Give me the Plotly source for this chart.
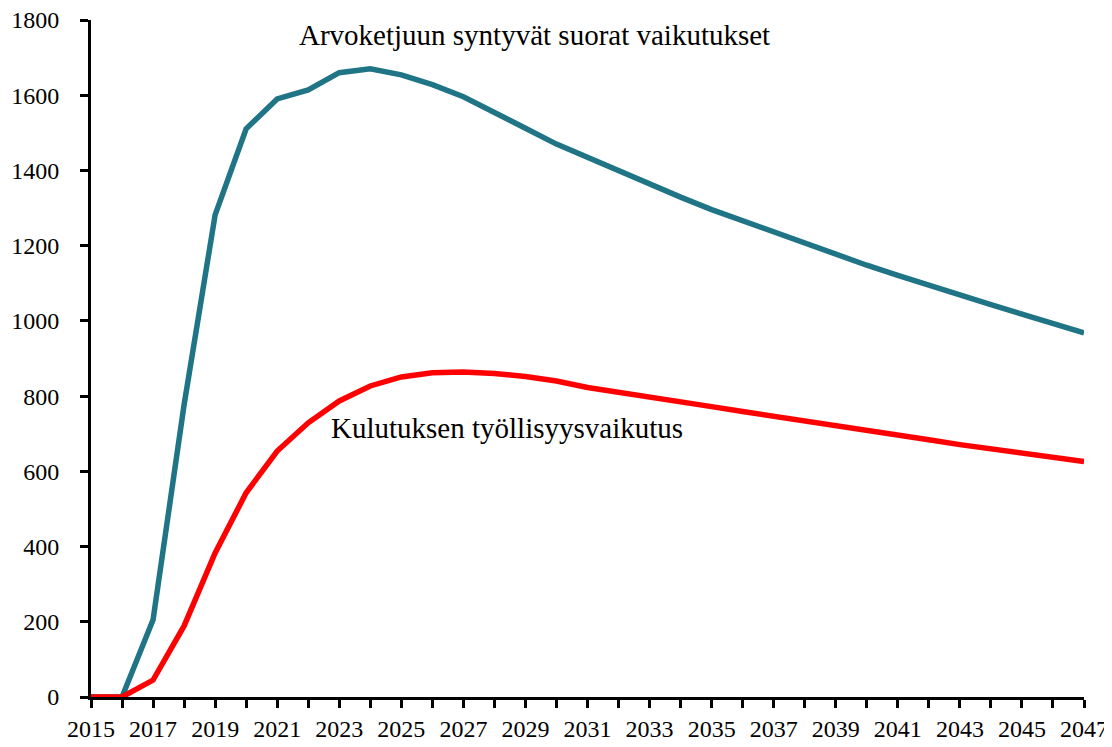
import plotly.graph_objects as go

years = list(range(2015, 2048))

arvoketju = [
    0, 0, 205, 777, 1282, 1511, 1590, 1614, 1660, 1670, 1654,
    1628, 1596, 1552, 1512, 1470, 1434, 1398, 1363, 1329, 1296,
    1266, 1236, 1205, 1176, 1148, 1121, 1094, 1068, 1043, 1018,
    993, 968,
]
kulutus = [
    0, 0, 45, 189, 383, 543, 654, 729, 787, 827, 851,
    862, 864, 860, 852, 840, 823, 811, 797, 785, 772,
    759, 747, 735, 723, 711, 697, 684, 671, 659, 648,
    637, 626,
]

y_ticks = list(range(0, 1801, 200))
x_labels = [str(y) if (y - 2015) % 2 == 0 else "" for y in years]

font = "Liberation Serif"
tick_font = dict(family=font, size=24, color="black")
label_font = dict(family=font, size=29, color="black")

fig = go.Figure()
fig.add_trace(go.Scatter(x=years, y=arvoketju, mode="lines", line=dict(color="#1F7485", width=5.5),
                         name="Arvoketjuun syntyvät suorat vaikutukset"))
fig.add_trace(go.Scatter(x=years, y=kulutus, mode="lines", line=dict(color="#FF0000", width=5.5),
                         name="Kulutuksen työllisyysvaikutus"))

fig.add_annotation(x=2029.3, y=1760, text="Arvoketjuun syntyvät suorat vaikutukset",
                   showarrow=False, font=label_font)
fig.add_annotation(x=2028.4, y=715, text="Kulutuksen työllisyysvaikutus",
                   showarrow=False, font=label_font)

# the page body keeps an 8px margin, so the figure is a bit smaller than the window
fig.update_layout(
    width=1104, height=739,
    margin=dict(l=83, r=28, t=12, b=50, autoexpand=False),
    plot_bgcolor="white", paper_bgcolor="white",
    showlegend=False,
    font=tick_font,
)
fig.update_xaxes(
    range=[2015, 2047], tickvals=years, ticktext=x_labels, tickfont=tick_font,
    showline=True, linecolor="black", linewidth=3, automargin=False, ticklabeloverflow="allow",
    ticks="outside", ticklen=8, tickwidth=3, tickcolor="black",
    showgrid=False, zeroline=False, layer="below traces",
)
fig.update_yaxes(
    range=[0, 1800], tickvals=y_ticks, tickfont=tick_font,
    showline=True, linecolor="black", linewidth=3, automargin=False, ticklabeloverflow="allow",
    ticks="outside", ticklen=8, tickwidth=3, tickcolor="black", ticklabelstandoff=16,
    showgrid=False, zeroline=False, layer="below traces",
)

fig.write_html("out.html")
